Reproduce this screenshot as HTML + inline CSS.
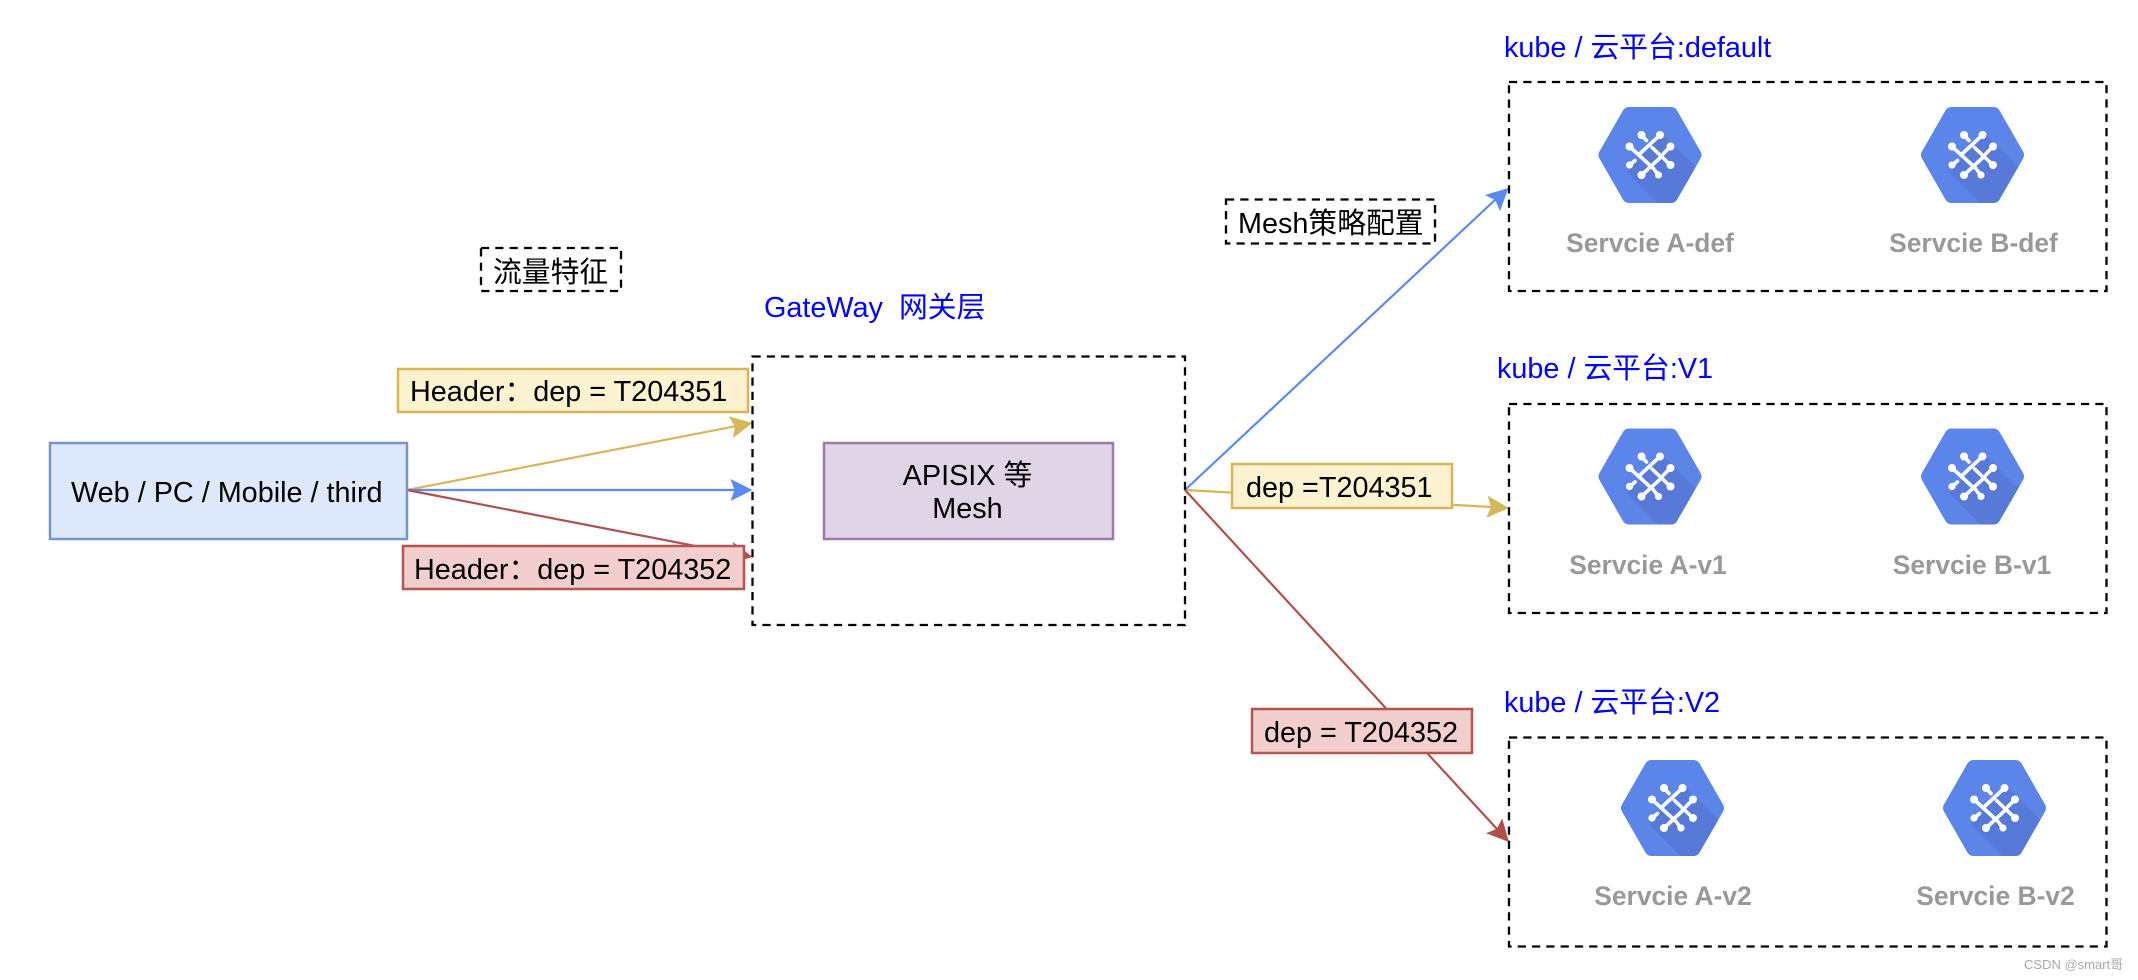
<!DOCTYPE html>
<html lang="zh-CN">
<head>
<meta charset="utf-8">
<title>Gateway diagram</title>
<style>
html,body{margin:0;padding:0;background:#fff;width:2138px;height:980px;overflow:hidden}
svg{display:block}
text{font-family:"Liberation Sans","Noto Sans CJK SC",sans-serif;font-size:28.8px;fill:#000;white-space:pre}
.b{fill:#0000ff}
.s{font-weight:bold;font-size:26.4px;fill:#999;text-anchor:middle}
.d{fill:none;stroke:#000;stroke-width:2.3;stroke-dasharray:8.2 6.1}
.c{fill:none;stroke-width:2.2}
</style>
</head>
<body>
<svg width="2138" height="980" viewBox="0 0 2138 980" xmlns="http://www.w3.org/2000/svg">
<defs>
<symbol id="hex" viewBox="-55 -52 110 104" overflow="visible">
<polygon points="-21,-41 21,-41 44.5,0 21,41 -21,41 -44.5,0" fill="#5c85e9" stroke="#5c85e9" stroke-width="14" stroke-linejoin="round"/>
<path d="M12 -22L45.7 12L27 44.5A7 7 0 0 1 21 48L8 48L-23 17Z" fill="#577ad9"/>
<g stroke="#fff" stroke-width="3.6" stroke-linecap="round" fill="#fff">
<line x1="10" y1="-20" x2="-10.5" y2="-1"/>
<line x1="-8.5" y1="-20" x2="-3.5" y2="-14.5"/>
<line x1="-20.5" y1="-8.5" x2="3.5" y2="13.5"/>
<line x1="-8.5" y1="20" x2="12" y2="1"/>
<line x1="20.5" y1="-8.5" x2="13.5" y2="-1.5"/>
<line x1="20.5" y1="10" x2="2" y2="-7.5"/>
<line x1="-20" y1="10" x2="-15" y2="5.5"/>
<line x1="8.5" y1="20" x2="5" y2="15.5"/>
<circle cx="10" cy="-20" r="4" stroke="none"/>
<circle cx="-8.5" cy="-20" r="4" stroke="none"/>
<circle cx="-20.5" cy="-8.5" r="4" stroke="none"/>
<circle cx="20.5" cy="-8.5" r="4" stroke="none"/>
<circle cx="-20.5" cy="10" r="3.6" stroke="none"/>
<circle cx="20.5" cy="10" r="4" stroke="none"/>
<circle cx="-8.5" cy="20" r="4" stroke="none"/>
<circle cx="8.5" cy="20" r="3.6" stroke="none"/>
</g>
</symbol>
</defs>

<!-- left connectors -->
<line class="c" x1="407" y1="490" x2="735" y2="426.3" stroke="#d6b656"/>
<line class="c" x1="407" y1="490" x2="735" y2="490" stroke="#5a8af0"/>
<line class="c" x1="407" y1="490" x2="735" y2="553.7" stroke="#b0504c"/>
<path transform="translate(752.5,423) rotate(-11)" d="M0 0L-22 -11L-18 0L-22 11Z" fill="#d6b656"/>
<path transform="translate(752.5,490)" d="M0 0L-22 -11L-18 0L-22 11Z" fill="#5a8af0"/>
<path transform="translate(752.5,557) rotate(11)" d="M0 0L-22 -11L-18 0L-22 11Z" fill="#b0504c"/>

<!-- right connectors -->
<line class="c" x1="1185" y1="490" x2="1496" y2="199" stroke="#5a8af0"/>
<line class="c" x1="1185" y1="490" x2="1492" y2="507" stroke="#d6b656"/>
<line class="c" x1="1185" y1="490" x2="1497" y2="829" stroke="#b0504c"/>
<path transform="translate(1508.5,188) rotate(-43.1)" d="M0 0L-22 -11L-18 0L-22 11Z" fill="#5a8af0"/>
<path transform="translate(1509,508) rotate(3.2)" d="M0 0L-22 -11L-18 0L-22 11Z" fill="#d6b656"/>
<path transform="translate(1509,842) rotate(47.4)" d="M0 0L-22 -11L-18 0L-22 11Z" fill="#b0504c"/>

<!-- client -->
<rect x="50" y="443" width="357" height="96" fill="#dde8fb" stroke="#7596c6" stroke-width="2.5"/>
<text x="71" y="502">Web / PC / Mobile / third</text>

<!-- labels left -->
<rect x="398" y="369" width="350" height="43" fill="#fdf2cf" stroke="#d6b656" stroke-width="2.5"/>
<text x="410" y="401">Header：dep = T204351</text>
<rect x="403" y="546" width="341" height="43" fill="#f2cfcc" stroke="#b85450" stroke-width="2.5"/>
<text x="414" y="579">Header：dep = T204352</text>

<rect class="d" x="481" y="248" width="140" height="43"/>
<text x="493" y="282">流量特征</text>

<!-- gateway -->
<text class="b" x="764" y="317">GateWay  网关层</text>
<rect class="d" x="752.5" y="356.5" width="432.5" height="268.5"/>
<rect x="824" y="443" width="289" height="96" fill="#e0d5e6" stroke="#9b7bab" stroke-width="2.5"/>
<text x="967.5" y="485" text-anchor="middle">APISIX 等</text>
<text x="967.5" y="518" text-anchor="middle">Mesh</text>

<!-- labels right -->
<rect class="d" x="1226" y="199.5" width="209" height="44"/>
<text x="1238" y="233">Mesh策略配置</text>
<rect x="1232" y="464" width="220" height="44" fill="#fdf2cf" stroke="#d6b656" stroke-width="2.5"/>
<text x="1246" y="497">dep =T204351</text>
<rect x="1252" y="709" width="220" height="44" fill="#f2cfcc" stroke="#b85450" stroke-width="2.5"/>
<text x="1264" y="742">dep = T204352</text>

<!-- default cluster -->
<text class="b" x="1504" y="57">kube / 云平台:default</text>
<rect class="d" x="1509" y="82" width="597.5" height="209"/>
<use href="#hex" x="1595" y="103" width="110" height="104"/>
<use href="#hex" x="1917.5" y="103" width="110" height="104"/>
<text class="s" x="1650" y="252">Servcie A-def</text>
<text class="s" x="1973.5" y="252">Servcie B-def</text>

<!-- v1 cluster -->
<text class="b" x="1497" y="378">kube / 云平台:V1</text>
<rect class="d" x="1509" y="404" width="597.5" height="209"/>
<use href="#hex" x="1595" y="424.5" width="110" height="104"/>
<use href="#hex" x="1917.5" y="424.5" width="110" height="104"/>
<text class="s" x="1648" y="574">Servcie A-v1</text>
<text class="s" x="1972" y="574">Servcie B-v1</text>

<!-- v2 cluster -->
<text class="b" x="1504" y="712">kube / 云平台:V2</text>
<rect class="d" x="1509" y="737.5" width="597.5" height="209"/>
<use href="#hex" x="1617.5" y="756" width="110" height="104"/>
<use href="#hex" x="1939.5" y="756" width="110" height="104"/>
<text class="s" x="1673" y="905">Servcie A-v2</text>
<text class="s" x="1995.5" y="905">Servcie B-v2</text>

<!-- watermark -->
<text x="2024" y="969" style="font-size:13px;fill:#a8a8a8">CSDN @smart哥</text>
</svg>
</body>
</html>
